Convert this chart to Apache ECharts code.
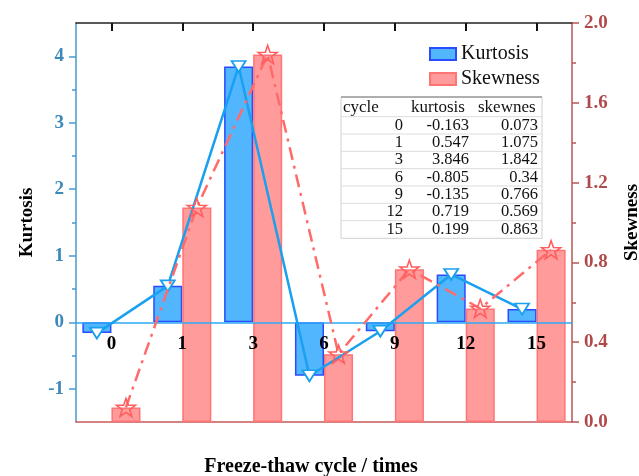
<!DOCTYPE html>
<html><head><meta charset="utf-8">
<script src="https://cdn.jsdelivr.net/npm/echarts@6/dist/echarts.min.js"></script>
<style>html,body{margin:0;padding:0;background:#fff}#c{width:639px;height:476px}</style>
</head><body><div id="c"></div>
<script>
const categories = ['0','1','3','6','9','12','15'];
const kurtosis = [-0.163, 0.547, 3.846, -0.805, -0.135, 0.719, 0.199];
const skewness = [0.073, 1.075, 1.842, 0.34, 0.766, 0.569, 0.863];
const kurtTicks = [-1, 0, 1, 2, 3, 4];
const kurtMinor = [-0.5, 0.5, 1.5, 2.5, 3.5];
const skewMinor = [0.2, 0.6, 1.0, 1.4, 1.8];
const tableHeader = ['cycle', 'kurtosis', 'skewnes'];

const FONT = '"Liberation Serif","Times New Roman",serif';
const BAR_FRAC = 0.41;           // bar width as fraction of category band
const OFF = BAR_FRAC / 2;        // centre offset of each bar from category centre
const KMIN = -1.5, KMAX = 4.5;
const GRID = {left: 76, right: 67, top: 23, bottom: 54};
const gridH = 476 - GRID.top - GRID.bottom;
const zeroOffset = -((0 - KMIN) / (KMAX - KMIN)) * gridH;  // place category axis at kurtosis zero

const starPath = 'path://M50,0 L61.75,33.8 L97.55,34.55 L69,56.2 L79.4,90.45 L50,70 L20.6,90.45 L31,56.2 L2.45,34.55 L38.25,33.8 Z';

// table graphics built from data arrays
const tbl = [];
const tX0 = 341, tX1 = 542, tTop = 97, rowH = 17.33, c0 = 108;
const nRows = categories.length + 1;
const tBottom = c0 + rowH * (nRows - 1) + 9;
tbl.push({type:'rect', shape:{x:tX0, y:tTop, width:tX1-tX0, height:tBottom-tTop}, style:{fill:'#fff', stroke:'#d0d0d0', lineWidth:1}, z:100});
tbl.push({type:'line', shape:{x1:tX0, y1:tTop, x2:tX1, y2:tTop}, style:{stroke:'#777', lineWidth:1.2}, z:101});
for (let r = 1; r < nRows; r++) {
  const y = c0 + rowH * (r - 0.5);
  tbl.push({type:'line', shape:{x1:tX0, y1:y, x2:tX1, y2:y}, style:{stroke:'#dcdcdc', lineWidth:1}, z:101});
}
const hdrX = [343, 411, 478];
tableHeader.forEach((h, i) => {
  tbl.push({type:'text', x:hdrX[i], y:c0, style:{text:h, font:'17px ' + FONT, fill:'#111', align:'left', verticalAlign:'middle'}, z:102});
});
const valX = [403, 469, 538];
categories.forEach((c, r) => {
  const y = c0 + rowH * (r + 1);
  [c, String(kurtosis[r]), String(skewness[r])].forEach((t, i) => {
    tbl.push({type:'text', x:valX[i], y:y, style:{text:t, font:'16.5px ' + FONT, fill:'#111', align:'right', verticalAlign:'middle'}, z:102});
  });
});

const chart = echarts.init(document.getElementById('c'));
chart.setOption({
  animation: false,
  backgroundColor: '#fff',
  grid: Object.assign({outerBoundsMode: 'none', containLabel: false}, GRID),
  legend: {
    data: ['Kurtosis', 'Skewness'], orient: 'vertical', left: 429, top: 44, padding: 0,
    itemWidth: 26, itemHeight: 12, itemGap: 5, icon: 'rect',
    textStyle: {fontFamily: FONT, fontSize: 20, color: '#111'}
  },
  xAxis: [
    {type:'category', data:categories, position:'bottom', offset: zeroOffset,
     axisLine:{onZero:false, lineStyle:{color:'#2eaaf5', width:1.5}},
     axisTick:{alignWithLabel:true, interval:0, length:6, lineStyle:{color:'#2eaaf5', width:1.5}},
     axisLabel:{interval:0, fontFamily:FONT, fontWeight:'bold', fontSize:19, color:'#000', margin:12},
     z: 10},
    {type:'category', data:categories, position:'top',
     axisLine:{onZero:false, lineStyle:{color:'#222', width:1.5}},
     axisTick:{show:true, alignWithLabel:true, interval:0, inside:true, length:8, lineStyle:{color:'#111', width:2}},
     axisLabel:{show:false}},
    {type:'category', data:categories, position:'bottom',
     axisLine:{onZero:false, lineStyle:{color:'#c65a5a', width:1.5}},
     axisTick:{show:false}, axisLabel:{show:false},
     name:'Freeze-thaw cycle / times', nameLocation:'middle', nameGap:35,
     nameTextStyle:{fontFamily:FONT, fontWeight:'bold', fontSize:20, color:'#000', padding:[0,26,0,0]}},
    {type:'value', min:-0.5, max:categories.length - 0.5, show:false}
  ],
  yAxis: [
    {type:'value', position:'left', min:KMIN, max:KMAX,
     axisLine:{show:true, onZero:false, lineStyle:{color:'#4a9acb', width:1.5}},
     axisTick:{show:true, customValues:kurtTicks, length:7, lineStyle:{color:'#4a9acb', width:1.5}},
     axisLabel:{customValues:kurtTicks, fontFamily:FONT, fontWeight:'bold', fontSize:19, color:'#3b88ba', margin:12},
     splitLine:{show:false},
     name:'Kurtosis', nameLocation:'middle', nameGap:39, nameRotate:90,
     nameTextStyle:{fontFamily:FONT, fontWeight:'bold', fontSize:19, color:'#000'}},
    {type:'value', position:'right', min:0, max:2, interval:0.4,
     axisLine:{show:true, onZero:false, lineStyle:{color:'#b85555', width:1.5}},
     axisTick:{show:true, length:7, lineStyle:{color:'#b85555', width:1.5}},
     axisLabel:{formatter:v => v.toFixed(1), fontFamily:FONT, fontWeight:'bold', fontSize:19, color:'#b04a4a', margin:12},
     splitLine:{show:false},
     name:'Skewness', nameLocation:'middle', nameGap:51, nameRotate:90,
     nameTextStyle:{fontFamily:FONT, fontWeight:'bold', fontSize:19, color:'#000'}},
    {type:'value', position:'left', min:KMIN, max:KMAX,
     axisLine:{show:false, onZero:false}, axisLabel:{show:false}, splitLine:{show:false},
     axisTick:{show:true, customValues:kurtMinor, length:4, lineStyle:{color:'#4a9acb', width:1.5}}},
    {type:'value', position:'right', min:0, max:2,
     axisLine:{show:false, onZero:false}, axisLabel:{show:false}, splitLine:{show:false},
     axisTick:{show:true, customValues:skewMinor, length:4, lineStyle:{color:'#b85555', width:1.5}}}
  ],
  series: [
    {name:'Kurtosis', type:'bar', xAxisIndex:0, yAxisIndex:0, data:kurtosis,
     barWidth:(BAR_FRAC*100)+'%', barGap:'0%',
     itemStyle:{color:'#52b6ff', borderColor:'#2a4cff', borderWidth:1.5}, z:2},
    {name:'Skewness', type:'bar', xAxisIndex:0, yAxisIndex:1, data:skewness,
     barWidth:(BAR_FRAC*100)+'%', barGap:'0%',
     itemStyle:{color:'#ff9b9b', borderColor:'#ff7474', borderWidth:1.5}, z:2},
    {name:'Kurtosis line', type:'line', xAxisIndex:3, yAxisIndex:0,
     data:kurtosis.map((v, i) => [i - OFF, v]),
     symbol:'triangle', symbolRotate:180, symbolSize:[14, 11],
     lineStyle:{color:'#19a0ee', width:2.5},
     itemStyle:{color:'#fff', borderColor:'#19a0ee', borderWidth:1.8}, z:14},
    {name:'Skewness line', type:'line', xAxisIndex:3, yAxisIndex:1,
     data:skewness.map((v, i) => [i + OFF, v]),
     symbol:starPath, symbolSize:19, symbolKeepAspect:true,
     lineStyle:{color:'#ff6b6b', width:2.5, type:[13, 6, 3, 6]},
     itemStyle:{color:'rgba(255,255,255,0)', borderColor:'#ff5e5e', borderWidth:1.6}, z:15}
  ],
  graphic: tbl
});
</script>
</body></html>
